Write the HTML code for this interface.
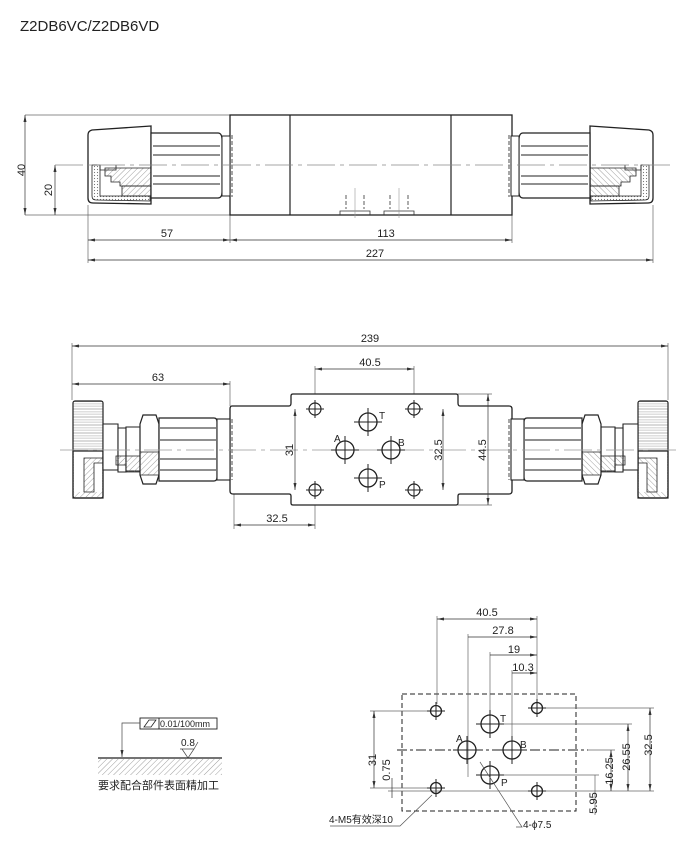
<!DOCTYPE html>
<html><head><meta charset="utf-8"><style>
html,body{margin:0;padding:0;background:#fff;}
svg{display:block;}
text{font-family:"Liberation Sans","Noto Sans CJK SC",sans-serif;fill:#222;}
</style></head><body>
<svg width="700" height="846" viewBox="0 0 700 846" xmlns="http://www.w3.org/2000/svg">
<defs>
<pattern id="h" width="4" height="4" patternUnits="userSpaceOnUse" patternTransform="rotate(45)"><line x1="0" y1="0" x2="0" y2="4" stroke="#777" stroke-width="0.7"/></pattern>
<pattern id="dots" width="3" height="3" patternUnits="userSpaceOnUse"><rect width="3" height="3" fill="#fff"/><circle cx="1.5" cy="1.5" r="0.6" fill="#777"/></pattern>
<pattern id="vk" width="1.6" height="3" patternUnits="userSpaceOnUse" patternTransform="rotate(90)"><line x1="0" y1="0" x2="0" y2="3" stroke="#777" stroke-width="0.5"/></pattern>
<marker id="a" markerWidth="8" markerHeight="6" refX="7" refY="3" orient="auto-start-reverse" markerUnits="userSpaceOnUse"><path d="M0,1.5 L7,3 L0,4.5Z" fill="#333"/></marker>
<g id="topAct">
  <path d="M151,126 L92,130 Q88,131 88,135 L88,198 Q88,203 93,203 L151,204 Z" fill="#fff" stroke="#222" stroke-width="1.3"/>
  <path d="M92,165 L92,196 Q92,200 96,200 L150,201 L150,196 L100,196 L100,165 Z" fill="url(#dots)" stroke="#222" stroke-width="0.8"/>
  <path d="M117,168 L151,168 L151,186 L120,186 L120,182 L111,182 L111,176 L105,176 L105,168Z" fill="url(#h)" stroke="#222" stroke-width="0.8"/>
  <path d="M122,186 L151,186 L151,196 L122,196Z" fill="url(#h)" stroke="#222" stroke-width="0.8"/>
  <path d="M100,165 L100,170 L116,170 L116,165" fill="none" stroke="#222" stroke-width="0.8"/>
  <path d="M151,133 L218,133 Q222,133 222,140 L222,192 Q222,198 218,198 L151,198Z" fill="#fff" stroke="#222" stroke-width="1.2"/>
  <line x1="153" y1="146" x2="220" y2="146" stroke="#222" stroke-width="1"/>
  <line x1="153" y1="155" x2="220" y2="155" stroke="#222" stroke-width="1"/>
  <line x1="153" y1="176" x2="220" y2="176" stroke="#222" stroke-width="1"/>
  <line x1="153" y1="184" x2="220" y2="184" stroke="#222" stroke-width="1"/>
  <rect x="222" y="136" width="8" height="60" fill="#fff" stroke="#222" stroke-width="1"/>
  <line x1="232" y1="135" x2="232" y2="197" stroke="#222" stroke-width="0.8" stroke-dasharray="4,2"/>
</g>
<g id="midAct">
  <rect x="73" y="401" width="30" height="97" rx="2" fill="url(#vk)" stroke="#222" stroke-width="1.2"/>
  <rect x="74" y="451" width="28" height="46" fill="#fff"/>
  <path d="M73,451 L103,451 L103,498 L73,498 Z" fill="none" stroke="#222" stroke-width="1.2"/>
  <path d="M84,458 L103,458 L103,463 L94,463 L94,492 L84,492Z" fill="url(#h)" stroke="#222" stroke-width="0.8"/>
  <path d="M74,492 L103,492 L103,497 L74,497Z" fill="url(#h)" stroke="none"/>
  <path d="M103,424 L118,424 L118,470 L103,470Z" fill="#fff" stroke="#222" stroke-width="1.1"/>
  <path d="M118,428 L126,428 L126,472 L118,472Z" fill="#fff" stroke="#222" stroke-width="1.1"/>
  <path d="M126,427 L143,427 L143,471 L126,471Z" fill="#fff" stroke="#222" stroke-width="1.1"/>
  <path d="M116,456 L143,456 L143,472 L126,472 L126,465 L116,465Z" fill="url(#h)" stroke="#222" stroke-width="0.8"/>
  <path d="M143,415 L156,415 L159,424 L159,475 L156,484 L143,484 L140,475 L140,424Z" fill="#fff" stroke="#222" stroke-width="1.2"/>
  <path d="M140,452 L159,452 L159,475 L140,475Z" fill="url(#h)" stroke="#222" stroke-width="0.8"/>
  <path d="M159,418 L214,418 Q217,418 217,422 L217,477 Q217,481 214,481 L159,481Z" fill="#fff" stroke="#222" stroke-width="1.2"/>
  <line x1="160" y1="428" x2="216" y2="428" stroke="#222"/>
  <line x1="160" y1="440" x2="216" y2="440" stroke="#222"/>
  <line x1="160" y1="459" x2="216" y2="459" stroke="#222"/>
  <line x1="160" y1="470" x2="216" y2="470" stroke="#222"/>
  <rect x="217" y="419" width="13" height="61" fill="#fff" stroke="#222" stroke-width="1.1"/>
  <line x1="232" y1="419" x2="232" y2="480" stroke="#222" stroke-width="0.8" stroke-dasharray="4,2"/>
</g>
<g id="mh"><circle r="6" fill="none" stroke="#222" stroke-width="1.2"/><line x1="-9" x2="9" stroke="#222" stroke-width="1"/><line y1="-9" y2="9" stroke="#222" stroke-width="1"/></g>
<g id="ph"><circle r="9" fill="none" stroke="#222" stroke-width="1.3"/><line x1="-14" x2="14" stroke="#222" stroke-width="1"/><line y1="-14" y2="14" stroke="#222" stroke-width="1"/></g>
<g id="mh2"><circle r="5.5" fill="none" stroke="#222" stroke-width="1.3"/><line x1="-9" x2="9" stroke="#222" stroke-width="1"/><line y1="-9" y2="9" stroke="#222" stroke-width="1"/></g>
</defs>

<text x="20" y="31" font-size="15">Z2DB6VC/Z2DB6VD</text>

<g stroke="#666" stroke-width="0.7" fill="none">
<line x1="25" y1="115" x2="230" y2="115"/><line x1="25" y1="215" x2="230" y2="215"/>
<line x1="88" y1="205" x2="88" y2="263"/><line x1="230" y1="215" x2="230" y2="243"/>
<line x1="512" y1="215" x2="512" y2="243"/><line x1="653" y1="205" x2="653" y2="263"/>
</g>
<line x1="25" y1="115" x2="25" y2="215" stroke="#333" stroke-width="0.7" marker-start="url(#a)" marker-end="url(#a)"/>
<line x1="55" y1="165" x2="55" y2="215" stroke="#333" stroke-width="0.7" marker-start="url(#a)" marker-end="url(#a)"/>
<text transform="translate(25,170) rotate(-90)" font-size="11" text-anchor="middle">40</text>
<text transform="translate(52,190) rotate(-90)" font-size="11" text-anchor="middle">20</text>
<rect x="230" y="115" width="282" height="100" fill="#fff" stroke="#222" stroke-width="1.3"/>
<line x1="290" y1="115" x2="290" y2="215" stroke="#222" stroke-width="1.2"/>
<line x1="451" y1="115" x2="451" y2="215" stroke="#222" stroke-width="1.2"/>
<use href="#topAct"/>
<use href="#topAct" transform="translate(741,0) scale(-1,1)"/>
<line x1="55" y1="165" x2="670" y2="165" stroke="#888" stroke-width="0.7" stroke-dasharray="28,5,4,5"/>
<g stroke="#333" stroke-width="0.8" fill="none">
<path d="M340,215 L340,211 L370,211 L370,215"/><path d="M384,215 L384,211 L414,211 L414,215"/>
<line x1="346" y1="195" x2="346" y2="209" stroke-dasharray="4,2"/><line x1="364" y1="195" x2="364" y2="209" stroke-dasharray="4,2"/>
<line x1="390" y1="195" x2="390" y2="209" stroke-dasharray="4,2"/><line x1="408" y1="195" x2="408" y2="209" stroke-dasharray="4,2"/>
<line x1="355" y1="188" x2="355" y2="218" stroke="#999" stroke-width="0.6"/><line x1="399" y1="188" x2="399" y2="218" stroke="#999" stroke-width="0.6"/>
</g>
<line x1="88" y1="240" x2="230" y2="240" stroke="#333" stroke-width="0.7" marker-start="url(#a)" marker-end="url(#a)"/>
<line x1="230" y1="240" x2="512" y2="240" stroke="#333" stroke-width="0.7" marker-start="url(#a)" marker-end="url(#a)"/>
<line x1="88" y1="260" x2="653" y2="260" stroke="#333" stroke-width="0.7" marker-start="url(#a)" marker-end="url(#a)"/>
<text x="167" y="237" font-size="11" text-anchor="middle">57</text>
<text x="386" y="237" font-size="11" text-anchor="middle">113</text>
<text x="375" y="257" font-size="11" text-anchor="middle">227</text>

<g stroke="#666" stroke-width="0.7" fill="none">
<line x1="72" y1="343" x2="72" y2="400"/><line x1="668" y1="343" x2="668" y2="400"/>
<line x1="230" y1="381" x2="230" y2="406"/>
<line x1="315" y1="366" x2="315" y2="500"/><line x1="414" y1="366" x2="414" y2="500"/>
<line x1="234" y1="494" x2="234" y2="529"/><line x1="315" y1="490" x2="315" y2="529"/>
<line x1="290" y1="409" x2="315" y2="409"/><line x1="290" y1="490" x2="315" y2="490"/>
<line x1="414" y1="409" x2="447" y2="409"/><line x1="414" y1="490" x2="447" y2="490"/>
<line x1="458" y1="394" x2="492" y2="394"/><line x1="458" y1="505" x2="492" y2="505"/>
</g>
<line x1="72" y1="346" x2="668" y2="346" stroke="#333" stroke-width="0.7" marker-start="url(#a)" marker-end="url(#a)"/>
<line x1="72" y1="384" x2="230" y2="384" stroke="#333" stroke-width="0.7" marker-start="url(#a)" marker-end="url(#a)"/>
<line x1="315" y1="369" x2="414" y2="369" stroke="#333" stroke-width="0.7" marker-start="url(#a)" marker-end="url(#a)"/>
<text x="370" y="342" font-size="11" text-anchor="middle">239</text>
<text x="158" y="381" font-size="11" text-anchor="middle">63</text>
<text x="370" y="366" font-size="11" text-anchor="middle">40.5</text>
<path d="M232,406 L289,406 Q291,406 291,403 L291,396 Q291,394 293,394 L456,394 Q458,394 458,396 L458,403 Q458,406 460,406 L509,406 Q512,406 512,409 L512,491 Q512,494 509,494 L460,494 Q458,494 458,496 L458,503 Q458,505 456,505 L293,505 Q291,505 291,503 L291,496 Q291,494 289,494 L233,494 Q230,494 230,491 L230,409 Q230,406 232,406Z" fill="#fff" stroke="#222" stroke-width="1.3"/>
<use href="#midAct"/>
<use href="#midAct" transform="translate(741,0) scale(-1,1)"/>
<line x1="60" y1="450" x2="680" y2="450" stroke="#999" stroke-width="0.7" stroke-dasharray="28,5,4,5"/>
<use href="#mh" x="315" y="409"/><use href="#mh" x="315" y="490"/><use href="#mh" x="414" y="409"/><use href="#mh" x="414" y="490"/>
<use href="#ph" x="368" y="422"/><use href="#ph" x="345" y="450"/><use href="#ph" x="391" y="450"/><use href="#ph" x="368" y="478"/>
<text x="379" y="419" font-size="10" font-family="Liberation Serif">T</text>
<text x="334" y="442" font-size="10" font-family="Liberation Serif">A</text>
<text x="398" y="446" font-size="10" font-family="Liberation Serif">B</text>
<text x="379" y="488" font-size="10" font-family="Liberation Serif">P</text>
<line x1="295" y1="409" x2="295" y2="490" stroke="#333" stroke-width="0.7" marker-start="url(#a)" marker-end="url(#a)"/>
<line x1="443" y1="409" x2="443" y2="490" stroke="#333" stroke-width="0.7" marker-start="url(#a)" marker-end="url(#a)"/>
<line x1="488" y1="394" x2="488" y2="505" stroke="#333" stroke-width="0.7" marker-start="url(#a)" marker-end="url(#a)"/>
<text transform="translate(293,450) rotate(-90)" font-size="11" text-anchor="middle">31</text>
<text transform="translate(442,450) rotate(-90)" font-size="11" text-anchor="middle">32.5</text>
<text transform="translate(486,450) rotate(-90)" font-size="11" text-anchor="middle">44.5</text>
<line x1="234" y1="525" x2="315" y2="525" stroke="#333" stroke-width="0.7" marker-start="url(#a)" marker-end="url(#a)"/>
<text x="277" y="522" font-size="11" text-anchor="middle">32.5</text>

<rect x="402" y="694" width="174" height="117" fill="none" stroke="#222" stroke-width="1" stroke-dasharray="5,3"/>
<line x1="397" y1="750" x2="588" y2="750" stroke="#222" stroke-width="1" stroke-dasharray="10,3,3,3"/>
<g stroke="#666" stroke-width="0.7" fill="none">
<line x1="437" y1="616" x2="437" y2="704"/><line x1="537" y1="616" x2="537" y2="700"/>
<line x1="468" y1="634" x2="468" y2="777"/><line x1="490" y1="652" x2="490" y2="712"/>
<line x1="512" y1="670" x2="512" y2="740"/>
<line x1="370" y1="711" x2="430" y2="711"/><line x1="370" y1="788" x2="430" y2="788"/>
<line x1="388" y1="791" x2="536" y2="791"/>
<line x1="545" y1="708" x2="654" y2="708"/><line x1="500" y1="724" x2="632" y2="724"/>
<line x1="588" y1="750" x2="615" y2="750"/><line x1="500" y1="775" x2="599" y2="775"/>
<line x1="545" y1="791" x2="654" y2="791"/>
<line x1="595" y1="775" x2="595" y2="815"/>
</g>
<g stroke="#333" stroke-width="0.7">
<line x1="437" y1="619" x2="537" y2="619" marker-start="url(#a)" marker-end="url(#a)"/>
<line x1="468" y1="637" x2="537" y2="637" marker-end="url(#a)"/>
<line x1="490" y1="655" x2="537" y2="655" marker-end="url(#a)"/>
<line x1="512" y1="673" x2="537" y2="673" marker-end="url(#a)"/>
<line x1="374" y1="711" x2="374" y2="788" marker-start="url(#a)" marker-end="url(#a)"/>
<line x1="392" y1="778" x2="392" y2="798"/>
<line x1="650" y1="708" x2="650" y2="791" marker-start="url(#a)" marker-end="url(#a)"/>
<line x1="628" y1="724" x2="628" y2="791" marker-start="url(#a)" marker-end="url(#a)"/>
<line x1="611" y1="750" x2="611" y2="791" marker-start="url(#a)" marker-end="url(#a)"/>
</g>
<text x="487" y="616" font-size="11" text-anchor="middle">40.5</text>
<text x="503" y="634" font-size="11" text-anchor="middle">27.8</text>
<text x="514" y="653" font-size="11" text-anchor="middle">19</text>
<text x="523" y="671" font-size="11" text-anchor="middle">10.3</text>
<use href="#mh2" x="436" y="711"/><use href="#mh2" x="537" y="708"/><use href="#mh2" x="436" y="788"/><use href="#mh2" x="537" y="791"/>
<use href="#ph" x="490" y="724"/><use href="#ph" x="467" y="750"/><use href="#ph" x="512" y="750"/><use href="#ph" x="490" y="775"/>
<text x="500" y="722" font-size="10" font-family="Liberation Serif">T</text>
<text x="456" y="742" font-size="10" font-family="Liberation Serif">A</text>
<text x="520" y="748" font-size="10" font-family="Liberation Serif">B</text>
<text x="501" y="786" font-size="10" font-family="Liberation Serif">P</text>
<text transform="translate(376,760) rotate(-90)" font-size="11" text-anchor="middle">31</text>
<text transform="translate(390,770) rotate(-90)" font-size="11" text-anchor="middle">0.75</text>
<text transform="translate(652,745) rotate(-90)" font-size="11" text-anchor="middle">32.5</text>
<text transform="translate(630,757) rotate(-90)" font-size="11" text-anchor="middle">26.55</text>
<text transform="translate(613,771) rotate(-90)" font-size="11" text-anchor="middle">16.25</text>
<text transform="translate(597,803) rotate(-90)" font-size="11" text-anchor="middle">5.95</text>
<g stroke="#555" stroke-width="0.7" fill="none">
<path d="M330,826 L400,826 L432,795"/>
<path d="M516,827 L522,827 L480,762"/>
</g>
<text x="329" y="823" font-size="10">4-M5有效深10</text>
<text x="523" y="828" font-size="10">4-ϕ7.5</text>

<rect x="140" y="718" width="77" height="11" fill="#fff" stroke="#222" stroke-width="0.9"/>
<line x1="159" y1="718" x2="159" y2="729" stroke="#222" stroke-width="0.9"/>
<path d="M144,727 L149,720 L156,720 L151,727Z" fill="none" stroke="#222" stroke-width="0.8"/>
<text x="160" y="727" font-size="9">0.01/100mm</text>
<path d="M140,723 L122,723 L122,757" fill="none" stroke="#444" stroke-width="0.7" marker-end="url(#a)"/>
<line x1="98" y1="758" x2="222" y2="758" stroke="#222" stroke-width="1.2"/>
<rect x="98" y="759" width="124" height="16" fill="url(#h)"/>
<text x="181" y="746" font-size="10">0.8</text>
<path d="M182,749 L188,758 L194,749 L180,749 M194,749 L198,742" fill="none" stroke="#444" stroke-width="0.7"/>
<text x="98" y="789" font-size="11">要求配合部件表面精加工</text>
</svg>
</body></html>
